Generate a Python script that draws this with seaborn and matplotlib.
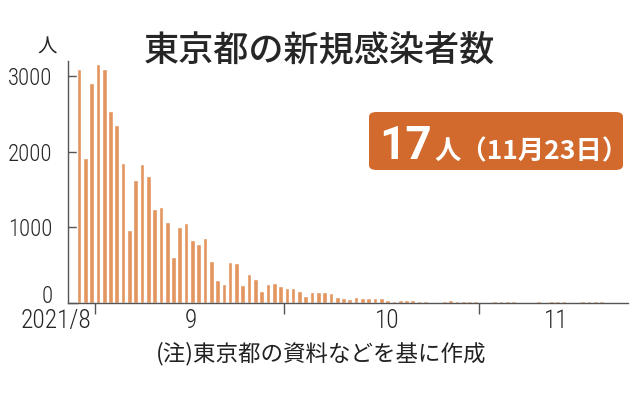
import pandas as pd
import matplotlib.pyplot as plt
import seaborn as sns
import numpy as np
from matplotlib import font_manager
from matplotlib.patches import FancyBboxPatch

# daily new cases in Tokyo, 2021/8/29 - 11/23
aug = [3100, 1915, 2909]
sep = [3168, 3099, 2539, 2362, 1853, 968, 1629, 1834, 1675, 1242,
       1273, 1067, 611, 1004, 1052, 831, 782, 862, 560, 302,
       253, 537, 531, 235, 382, 317, 154, 248, 267, 218]
oct_ = [200, 196, 161, 87, 149, 144, 143, 138, 82, 60,
        49, 77, 62, 62, 72, 66, 40, 29, 36, 41,
        36, 26, 32, 19, 17, 29, 36, 21, 26, 23, 22]
nov = [9, 18, 24, 20, 30, 24, 18, 9, 14, 24,
       19, 28, 21, 24, 10, 14, 20, 31, 21, 24,
       19, 6, 17]
cases = aug + sep + oct_ + nov
start_date = "2021-08-29"

month_labels = ["2021/8", "9", "10", "11"]
month_label_days = [2.0, 17.8, 49.0, 75.7]
y_ticks = [0, 1000, 2000, 3000]

dates = pd.date_range(start_date, periods=len(cases), freq="D")
df = pd.DataFrame({"date": dates, "cases": cases})
df["day"] = (df["date"] - df["date"].iloc[0]).dt.days
boundaries = [d - 0.5 for d in df.loc[df["date"].dt.day == 1, "day"]]

sns.set_style("white")
plt.rcParams["font.family"] = ["Noto Sans CJK JP", "DejaVu Sans"]

# narrow font for the numbers
installed = {f.name for f in font_manager.fontManager.ttflist}
if "Roboto Condensed" in installed:
    num_family = dict(family=["Roboto Condensed"], weight="light")
else:
    num_family = dict(family=["DejaVu Sans"], stretch="condensed")

bar_color = "#E2955E"
box_color = "#D2692D"
axis_color = "#555555"

fig = plt.figure(figsize=(6.38, 3.95), dpi=100)
ax = fig.add_axes([0.1066, 0.233, 0.877, 0.612])


def fit_size(text, target_px):
    # font size that gives the wanted width in pixels
    t = fig.text(0, 0, text, fontsize=10, **num_family)
    w = t.get_window_extent(renderer=fig.canvas.get_renderer()).width
    t.remove()
    return 10 * target_px / w


y_size = fit_size("3000", 45)
x_size = fit_size("2021/8", 71)

sns.barplot(data=df, x="day", y="cases", native_scale=True, width=0.74,
            color=bar_color, saturation=1, ax=ax)

ax.set_xlim(-1.75, 87.1)
ax.set_ylim(0, 3200)
ax.set_xlabel("")
ax.set_ylabel("")

for side in ["top", "right"]:
    ax.spines[side].set_visible(False)
for side in ["left", "bottom"]:
    ax.spines[side].set_color(axis_color)
    ax.spines[side].set_linewidth(1.0)

ax.set_yticks(y_ticks)
ax.set_yticklabels([str(v) for v in y_ticks], fontsize=y_size, **num_family)
ax.tick_params(axis="y", direction="in", length=7, width=1, color=axis_color, pad=11, left=True)
ax.get_yticklabels()[0].set_va("baseline")

ax.set_xticks(month_label_days)
ax.set_xticklabels(month_labels, fontsize=x_size, **num_family)
ax.tick_params(axis="x", which="major", length=0, pad=4)
ax.set_xticks(boundaries, minor=True)
ax.tick_params(axis="x", which="minor", direction="out", length=8, width=1,
               color=axis_color, bottom=True)
ax.get_xticklabels()[0].set_ha("right")

fig.text(0.074, 0.88, "人", fontsize=14, ha="center", va="center")
fig.text(0.501, 0.873, "東京都の新規感染者数", fontsize=25.3, ha="center", va="center",
         weight="medium")
fig.text(0.503, 0.106, "(注)東京都の資料などを基に作成", fontsize=16.2, ha="center",
         va="center", color="#222222")

box = FancyBboxPatch((369 / 638, 1 - 170 / 395), 254 / 638, 58 / 395,
                     boxstyle="round,pad=0,rounding_size=0.012",
                     transform=fig.transFigure, facecolor=box_color,
                     edgecolor="none")
fig.patches.append(box)
fig.text(432 / 638, 1 - 159 / 395, "17", fontsize=33, weight="bold", color="white",
         ha="right", va="baseline", family=["Roboto", "DejaVu Sans"])
fig.text(434 / 638, 1 - 159 / 395, "人（11月23日）", fontsize=19, weight="bold",
         color="white", ha="left", va="baseline")

fig.savefig("out.png", dpi=100)
